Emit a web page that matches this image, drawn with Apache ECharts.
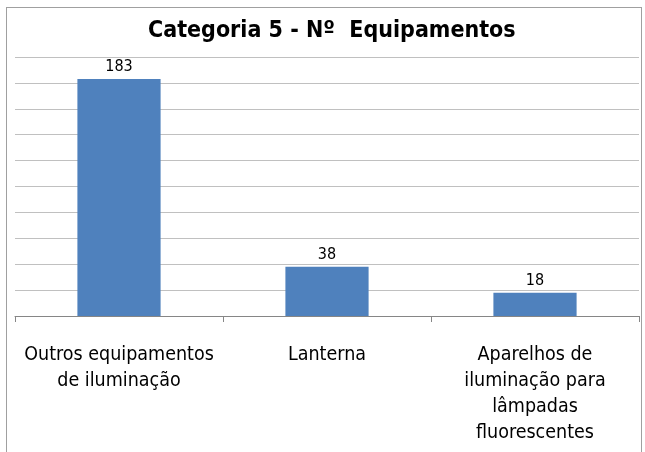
<!DOCTYPE html>
<html lang="pt">
  <head>
    <meta charset="UTF-8" />
    <title>Categoria 5</title>
    <script src="https://cdn.jsdelivr.net/npm/echarts@6/dist/echarts.min.js"></script>
    <style>
      html, body { margin: 0; padding: 0; background: #fff; }
      .frame {
        position: absolute;
        left: 6px; top: 7px;
        width: 636px; height: 450px;
        border: 1px solid #a0a0a0;
        box-sizing: border-box;
      }
      .echarts { position: absolute; left: 0; top: 0; width: 645px; height: 452px; }
    </style>
  </head>
  <body>
    <div class="frame"></div>
    <div class="echarts"></div>
    <script>
      const categories = [
        'Outros equipamentos\nde iluminação',
        'Lanterna',
        'Aparelhos de\niluminação para\nlâmpadas\nfluorescentes'
      ]
      const values = [183, 38, 18]
      const yMin = 0, yMax = 200, yStep = 20

      const font = "'DejaVu Sans Condensed', 'Liberation Sans', sans-serif"
      const myCharts = echarts.init(document.querySelector('.echarts'))
      const option = {
        animation: false,
        title: {
          text: 'Categoria 5 - Nº  Equipamentos',
          left: 143,
          top: 15,
          textStyle: { fontFamily: font, fontWeight: 'bold', fontSize: 23, color: '#000' }
        },
        grid: { left: 15, right: 6, top: 57, bottom: 136, containLabel: false },
        xAxis: {
          type: 'category',
          data: categories,
          axisLine: { lineStyle: { color: '#868686' } },
          axisTick: { show: true, length: 6, lineStyle: { color: '#868686' } },
          axisLabel: {
            interval: 0,
            margin: 26,
            fontFamily: font,
            fontSize: 19.5,
            lineHeight: 26,
            color: '#000'
          }
        },
        yAxis: {
          type: 'value',
          min: yMin,
          max: yMax,
          interval: yStep,
          axisLine: { show: false },
          axisTick: { show: false },
          axisLabel: { show: false },
          splitLine: { lineStyle: { color: '#c0c0c0' } }
        },
        series: [{
          type: 'bar',
          data: values,
          barWidth: '40%',
          itemStyle: { color: '#4f81bd' },
          label: {
            show: true,
            position: 'top',
            distance: 4,
            fontFamily: font,
            fontSize: 16,
            color: '#000'
          }
        }]
      }
      myCharts.setOption(option)
    </script>
  </body>
</html>
